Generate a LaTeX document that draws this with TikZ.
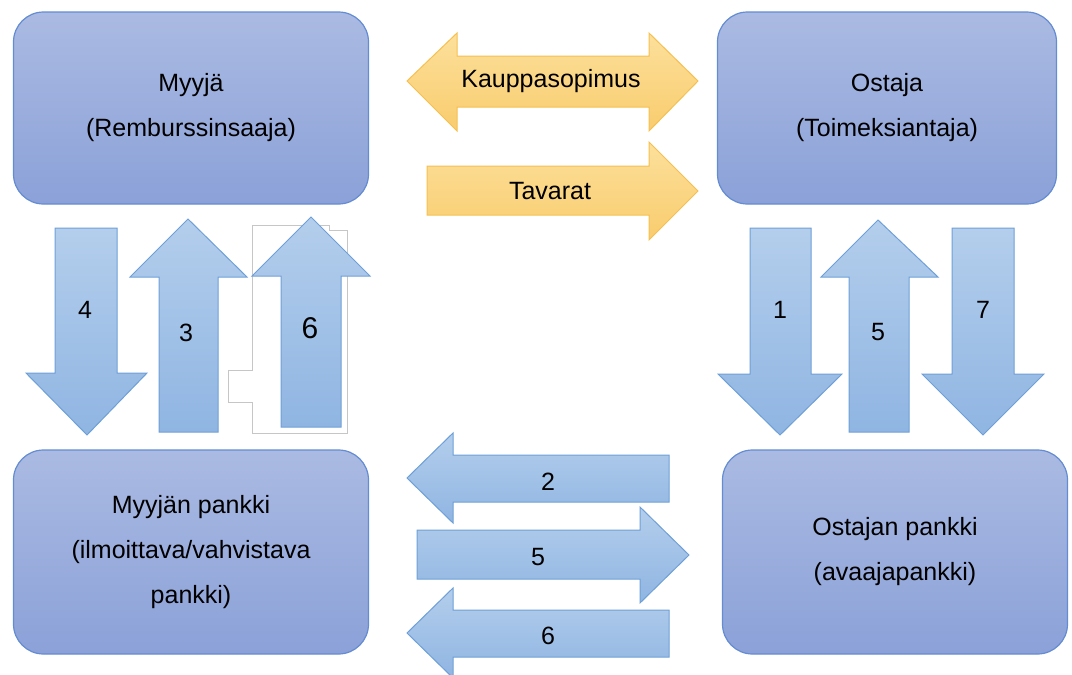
\documentclass[tikz,border=0pt]{standalone}
\usepackage{fontspec}
\setmainfont{Liberation Sans}
\usepackage{tikz}

\definecolor{boxtop}{RGB}{170,186,226}
\definecolor{boxbot}{RGB}{139,161,216}
\definecolor{boxline}{RGB}{100,140,210}
\definecolor{arrtop}{RGB}{180,206,236}
\definecolor{arrbot}{RGB}{143,181,226}
\definecolor{arrline}{RGB}{110,160,215}
\definecolor{yeltop}{RGB}{252,224,155}
\definecolor{yelbot}{RGB}{249,204,110}
\definecolor{yelline}{RGB}{246,192,80}

\begin{document}
\begin{tikzpicture}[x=1pt,y=-1pt,
	party/.style={draw=boxline,line width=1.2pt,rounded corners=30pt,top color=boxtop,bottom color=boxbot,
		align=center,font=\fontsize{25pt}{45pt}\selectfont},
	bluearr/.style={draw=arrline,line width=1pt,top color=arrtop,bottom color=arrbot},
	yelarr/.style={draw=yelline,line width=1pt,top color=yeltop,bottom color=yelbot},
	num/.style={font=\fontsize{25pt}{30pt}\selectfont}]
\useasboundingbox (0,0) rectangle (1072,675);

% parties
\node[party,minimum width=355pt,minimum height=192pt] (myyja) at (191,108) {Myyjä\\(Remburssinsaaja)};
\node[party,minimum width=339pt,minimum height=192pt] (ostaja) at (887,108) {Ostaja\\(Toimeksiantaja)};
\node[party,minimum width=355pt,minimum height=204pt] (mpankki) at (191,552) {Myyjän pankki\\(ilmoittava/vahvistava\\pankki)};
\node[party,minimum width=345pt,minimum height=204pt] (opankki) at (895,552) {Ostajan pankki\\(avaajapankki)};

% seller - buyer
\path[yelarr] (407,81) -- (457,33) -- (457,56) -- (649,56) -- (649,33) -- (698,81) -- (649,131) -- (649,107) -- (457,107) -- (457,131) -- cycle;
\node[num] (sopimus) at (551,81) {Kauppasopimus};
\path[yelarr] (427,166) -- (649,166) -- (649,142) -- (698,191) -- (649,240) -- (649,215) -- (427,215) -- cycle;
\node[num] (tavarat) at (550,191) {Tavarat};

% seller side
\path[bluearr] (55,228) -- (117,228) -- (117,373) -- (147,373) -- (87,435) -- (26,373) -- (55,373) -- cycle;
\node[num] (l4) at (85,310) {4};
\path[bluearr] (188,219) -- (247,277) -- (218,277) -- (218,432) -- (159,432) -- (159,277) -- (130,277) -- cycle;
\node[num] (l3) at (186,333) {3};
\draw[gray!45,line width=0.8pt] (252,225) -- (329,225) -- (329,230) -- (347,230) -- (347,433) -- (252,433) -- (252,402) -- (228,402) -- (228,370) -- (252,370) -- cycle;
\path[bluearr] (311,217) -- (370,276) -- (341,276) -- (341,427) -- (281,427) -- (281,276) -- (252,276) -- cycle;
\node[font=\fontsize{30pt}{36pt}\selectfont] (l6a) at (310,328) {6};

% buyer side
\path[bluearr] (750,228) -- (811,228) -- (811,374) -- (842,374) -- (780,435) -- (718,374) -- (750,374) -- cycle;
\node[num] (l1) at (780,310) {1};
\path[bluearr] (878,220) -- (938,277) -- (909,277) -- (909,432) -- (849,432) -- (849,277) -- (821,277) -- cycle;
\node[num] (l5a) at (878,332) {5};
\path[bluearr] (952,228) -- (1014,228) -- (1014,374) -- (1044,374) -- (983,435) -- (922,374) -- (952,374) -- cycle;
\node[num] (l7) at (983,310) {7};

% banks
\path[bluearr] (407,478) -- (453,433) -- (453,455) -- (669,455) -- (669,502) -- (453,502) -- (453,523) -- cycle;
\node[num] (l2) at (548,482) {2};
\path[bluearr] (417,530) -- (640,530) -- (640,507) -- (689,555) -- (640,603) -- (640,579) -- (417,579) -- cycle;
\node[num] (l5b) at (538,557) {5};
\path[bluearr] (407,633) -- (453,588) -- (453,610) -- (669,610) -- (669,657) -- (453,657) -- (453,678) -- cycle;
\node[num] (l6b) at (548,636) {6};
\end{tikzpicture}
\end{document}
